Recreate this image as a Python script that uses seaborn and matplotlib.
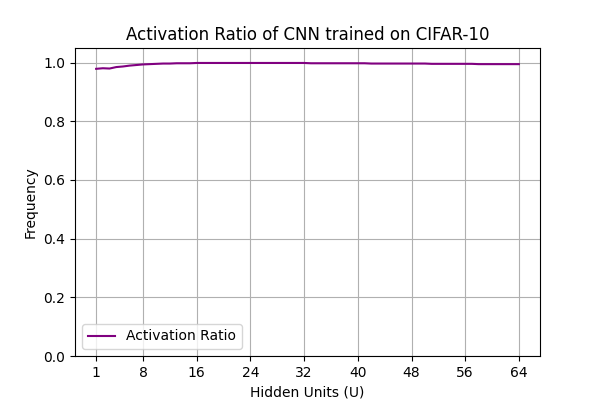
import numpy as np
import pandas as pd
import matplotlib
matplotlib.use("Agg")
import matplotlib.pyplot as plt
import seaborn as sns

# hidden units 1..64 and the activation ratio
units = list(range(1, 65))
ratio = [
    0.979, 0.981, 0.980, 0.985, 0.987, 0.990, 0.992, 0.994, 0.995, 0.996,
    0.997, 0.997, 0.998, 0.998, 0.998, 0.999, 0.999, 0.999, 0.999, 0.999,
    0.999, 0.999, 0.999, 0.999, 0.999, 0.999, 0.999, 0.999, 0.999, 0.999,
    0.999, 0.999, 0.998, 0.998, 0.998, 0.998, 0.998, 0.998, 0.998, 0.998,
    0.998, 0.997, 0.997, 0.997, 0.997, 0.997, 0.997, 0.997, 0.997, 0.997,
    0.996, 0.996, 0.996, 0.996, 0.996, 0.996, 0.996, 0.995, 0.995, 0.995,
    0.995, 0.995, 0.995, 0.995,
]
xticks = [1, 8, 16, 24, 32, 40, 48, 56, 64]

df = pd.DataFrame({"Hidden Units (U)": units, "Frequency": ratio})

fig, ax = plt.subplots(figsize=(6, 4), dpi=100)
sns.lineplot(data=df, x="Hidden Units (U)", y="Frequency", color="purple",
             linewidth=1.5, label="Activation Ratio", ax=ax)
ax.set_title("Activation Ratio of CNN trained on CIFAR-10")
ax.set_xticks(xticks)
ax.set_ylim(0, 1.05)
ax.grid(True)
ax.legend(loc="lower left")
plt.tight_layout()
fig.subplots_adjust(left=0.125, right=0.9, top=0.88, bottom=0.11)
plt.savefig("out.png", dpi=100)
